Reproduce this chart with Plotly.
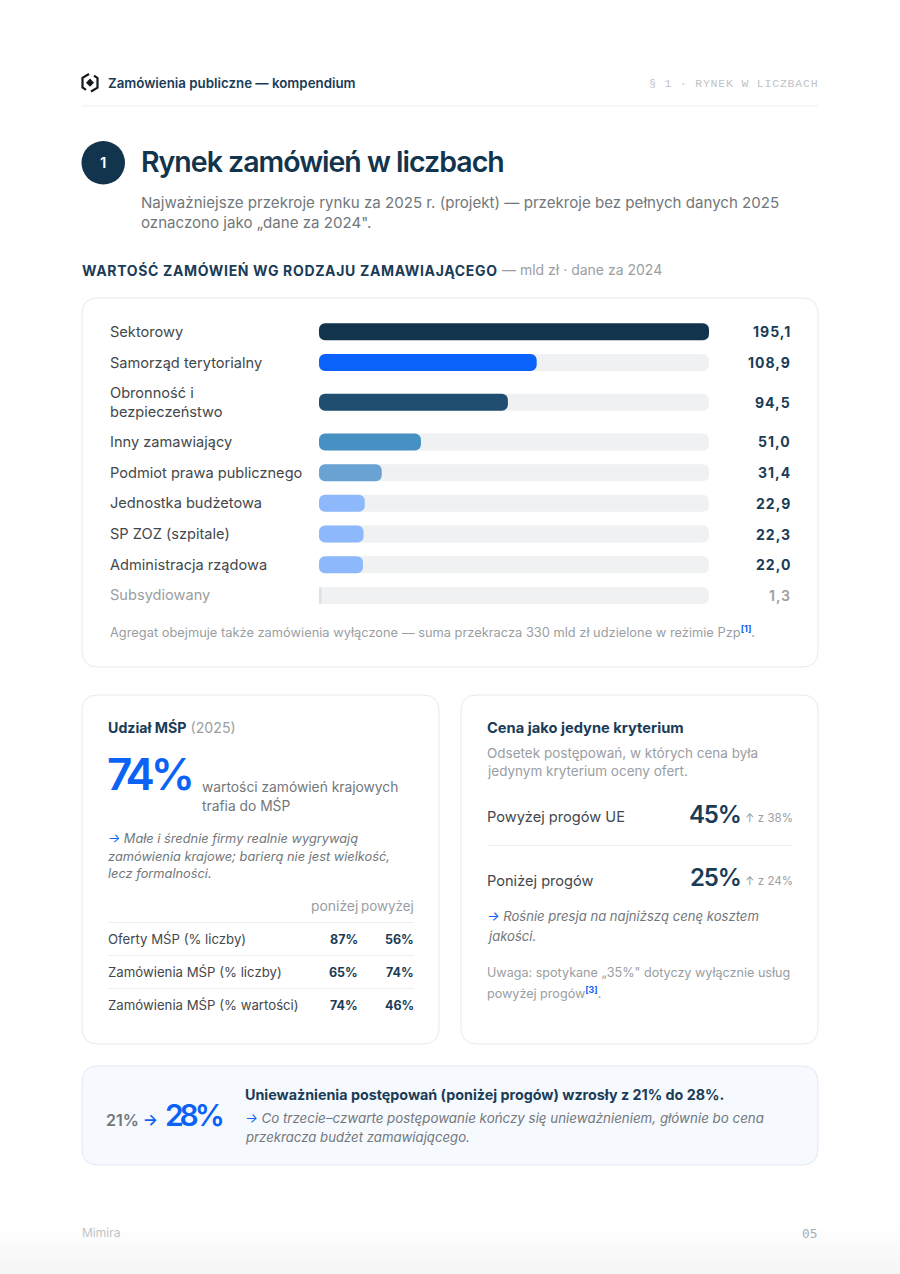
import plotly.graph_objects as go

W, H = 900, 1274
FONT = "Inter"
MONO = "Liberation Mono"
NAVY = "#1a3c57"
CIRCLE = "#12344d"
BLUE = "#0b62f5"
GREY = "#72777b"
LGREY = "#9a9ea2"
DARK = "#43484c"

categories = ["Sektorowy", "Samorząd terytorialny", "Obronność i<br>bezpieczeństwo", "Inny zamawiający",
              "Podmiot prawa publicznego", "Jednostka budżetowa", "SP ZOZ (szpitale)",
              "Administracja rządowa", "Subsydiowany"]
values = [195.1, 108.9, 94.5, 51.0, 31.4, 22.9, 22.3, 22.0, 1.3]
value_labels = ["195,1", "108,9", "94,5", "51,0", "31,4", "22,9", "22,3", "22,0", "1,3"]
bar_colors = ["#12344d", "#0a62fb", "#1f4e70", "#4790c4", "#6aa3d3", "#8db8fb", "#8db8fb", "#8db8fb", "#dde1e4"]

table_rows = ["Oferty MŚP (% liczby)", "Zamówienia MŚP (% liczby)", "Zamówienia MŚP (% wartości)"]
table_below = ["87%", "65%", "74%"]
table_above = ["56%", "74%", "46%"]

row_px = 30.7
wrap_px = 48.7
heights = [wrap_px / row_px if "<br>" in c else 1.0 for c in categories]
centers, acc = [], 0.0
for h in heights:
    centers.append(acc + h / 2)
    acc += h
total = acc
top_px = 316.5
bot_px = top_px + total * row_px

shapes, ann = [], []
def X(x): return x / W
def Y(y): return 1 - y / H

def rrect(x0, y0, x1, y1, r, fill, line, lw=1, layer="below"):
    a0, a1, b0, b1 = X(x0), X(x1), Y(y0), Y(y1)
    rx, ry = r / W, r / H
    p = (f"M{a0+rx},{b0} L{a1-rx},{b0} Q{a1},{b0} {a1},{b0-ry} L{a1},{b1+ry} Q{a1},{b1} {a1-rx},{b1} "
         f"L{a0+rx},{b1} Q{a0},{b1} {a0},{b1+ry} L{a0},{b0-ry} Q{a0},{b0} {a0+rx},{b0} Z")
    shapes.append(dict(type="path", xref="paper", yref="paper", path=p, fillcolor=fill,
                       line=dict(color=line, width=lw), layer=layer))

def hline(x0, x1, y, color="#eceef0", lw=1):
    shapes.append(dict(type="line", xref="paper", yref="paper", x0=X(x0), x1=X(x1), y0=Y(y), y1=Y(y),
                       line=dict(color=color, width=lw), layer="below"))

def T(x, y, text, size, color=DARK, weight=400, anchor="left", font=FONT, italic=False, ls=None):
    if ls is not None:
        text = f"<span style='letter-spacing:{ls}px'>{text}</span>"
    ann.append(dict(xref="paper", yref="paper", x=X(x), y=Y(y), text=text, showarrow=False, xanchor=anchor,
                    yanchor="middle", borderpad=0, borderwidth=0, align=anchor,
                    font=dict(family=font, size=size, color=color, weight=weight,
                              style="italic" if italic else "normal")))

# page background fade at the bottom
for i in range(11):
    c = 255 - i
    shapes.append(dict(type="rect", xref="paper", yref="paper", x0=0, x1=1, y0=0, y1=Y(1222 + i * 5),
                       fillcolor=f"rgb({c},{c},{min(255, c + 1)})", line=dict(width=0), layer="below"))

# header
T(107.5, 82.5, "Zamówienia publiczne — kompendium", 13.3, NAVY, 600)
T(818, 83, "§ 1 · RYNEK W LICZBACH", 11.5, "#c0c3c6", 400, "right", MONO, ls=0.8)
hline(82, 818, 106)
# logo
ink = "#14181c"
def hex_path(pts):
    return "M" + " L".join(f"{X(a)},{Y(b)}" for a, b in pts)
shapes.append(dict(type="path", xref="paper", yref="paper", layer="above", fillcolor="rgba(0,0,0,0)",
                   line=dict(color=ink, width=2.2), path=hex_path([(89, 74), (82.5, 77.8), (82.5, 87.5), (86, 89.8)])))
shapes.append(dict(type="path", xref="paper", yref="paper", layer="above", fillcolor="rgba(0,0,0,0)",
                   line=dict(color=ink, width=2.2), path=hex_path([(91, 91.5), (97.5, 87.7), (97.5, 78), (94, 75.7)])))
shapes.append(dict(type="path", xref="paper", yref="paper", layer="above", fillcolor=ink, line=dict(width=0),
                   path=hex_path([(90, 78.6), (94, 82.7), (90, 86.8), (86, 82.7)]) + " Z"))

# title block
shapes.append(dict(type="circle", xref="paper", yref="paper", x0=X(81.5), x1=X(125), y0=Y(141), y1=Y(184.5),
                   fillcolor=CIRCLE, line=dict(width=0), layer="below"))
T(103.3, 162.5, "1", 15, "#ffffff", 600, "center")
T(141, 161.5, "Rynek zamówień w liczbach", 28.5, CIRCLE, 600, ls=-1)
T(141, 202.5, "Najważniejsze przekroje rynku za 2025 r. (projekt) — przekroje bez pełnych danych 2025", 15.1, GREY)
T(141, 222.5, "oznaczono jako „dane za 2024\".", 15.1, GREY)
T(82, 270, "WARTOŚĆ ZAMÓWIEŃ WG RODZAJU ZAMAWIAJĄCEGO", 14, NAVY, 700, ls=0.66)
T(502, 270, "— mld zł · dane za 2024", 14, LGREY)

# main card
rrect(82, 298, 818, 667, 16, "#ffffff", "#e8eaec")
for c, yc, vl in zip(categories, centers, value_labels):
    faded = c == categories[-1]
    ypx = top_px + yc * row_px
    parts = c.split("<br>")
    for i, p in enumerate(parts):
        T(110, ypx + (i - (len(parts) - 1) / 2) * 19, p, 14.6, LGREY if faded else DARK)
    T(790.5, ypx, vl, 14, LGREY if faded else NAVY, 600 if faded else 700, "right", ls=1.0)
T(110, 632, f"Agregat obejmuje także zamówienia wyłączone — suma przekracza 330 mld zł udzielone w reżimie Pzp<sup><span style='color:{BLUE};font-weight:700'>[1]</span></sup>.", 12.85, LGREY)

# left card
rrect(82, 695, 439, 1044, 16, "#ffffff", "#e8eaec")
T(108, 727.5, f"<span style='font-weight:700'>Udział MŚP</span> <span style='color:{LGREY}'>(2025)</span>", 14.2, NAVY)
T(107, 774, "74%", 44, BLUE, 600, ls=-4.2)
T(201.5, 786.5, "wartości zamówień krajowych", 13.8, GREY)
T(201.5, 805, "trafia do MŚP", 13.8, GREY)
T(108, 838.5, f"<span style='color:{BLUE}'>→</span> Małe i średnie firmy realnie wygrywają", 12.8, GREY, italic=True)
T(108, 856, "zamówienia krajowe; barierą nie jest wielkość,", 12.8, GREY, italic=True)
T(108, 873.5, "lecz formalności.", 12.8, GREY, italic=True)
T(358, 906, "poniżej", 13.9, LGREY, 400, "right")
T(414, 906, "powyżej", 13.4, LGREY, 400, "right")
for i, (r, a, b) in enumerate(zip(table_rows, table_below, table_above)):
    yy = 939 + i * 33
    hline(108, 414, yy - 16.5)
    T(108, yy, r, 13.2, DARK)
    T(358, yy, a, 12.5, NAVY, 700, "right")
    T(414, yy, b, 12.5, NAVY, 700, "right")

# right card
rrect(461, 695, 818, 1044, 16, "#ffffff", "#e8eaec")
T(487, 727.5, "Cena jako jedyne kryterium", 14.7, NAVY, 700)
T(487, 752.5, "Odsetek postępowań, w których cena była", 13.5, LGREY)
T(487, 771, "jedynym kryterium oceny ofert.", 13.5, LGREY)
T(487, 817, "Powyżej progów UE", 14.6, DARK)
T(741, 814, "45%", 24, NAVY, 600, "right", ls=-1.2)
T(793, 818, "↑ z 38%", 11.5, LGREY, 400, "right")
hline(487, 793, 845.5)
T(487, 880.5, "Poniżej progów", 14.6, DARK)
T(741, 877, "25%", 24, NAVY, 600, "right", ls=-1.2)
T(793, 881.5, "↑ z 24%", 11.5, LGREY, 400, "right")
T(487, 916, f"<span style='color:{BLUE}'>→</span> Rośnie presja na najniższą cenę kosztem", 13.1, GREY, italic=True)
T(487, 936, "jakości.", 13.1, GREY, italic=True)
T(487, 972.5, "Uwaga: spotykane „35%\" dotyczy wyłącznie usług", 12.6, LGREY)
T(487, 992, f"powyżej progów<sup><span style='color:{BLUE};font-weight:700'>[3]</span></sup>.", 12.6, LGREY)

# banner
rrect(82, 1066, 818, 1165, 16, "#f6f9fe", "#e2e9f4")
T(106, 1120, f"21% <span style='color:{BLUE}'>→</span>", 16, GREY, 600)
T(165, 1115, "28%", 30, BLUE, 600, ls=-4.1)
T(245, 1094, "Unieważnienia postępowań (poniżej progów) wzrosły z 21% do 28%.", 14.3, NAVY, 700)
T(245, 1117.5, f"<span style='color:{BLUE}'>→</span> Co trzecie–czwarte postępowanie kończy się unieważnieniem, głównie bo cena", 13.35, GREY, italic=True)
T(245, 1136.5, "przekracza budżet zamawiającego.", 13.2, GREY, italic=True)

# footer
T(82, 1232, "Mimira", 12, "#c0c3c6")
T(818, 1233, "05", 12.9, "#a9adb0", 400, "right", "DejaVu Sans Mono")

track = [max(values)] * len(values)
zero_base = [0] * len(values)  # an explicit base makes Plotly round both ends of each bar
fig = go.Figure()
fig.add_trace(go.Bar(y=centers, x=track, base=zero_base, orientation="h", width=17 / row_px,
                     marker=dict(color="#eff1f3", line=dict(width=0)), hoverinfo="skip", showlegend=False))
fig.add_trace(go.Bar(y=centers, x=values, base=zero_base, orientation="h", width=17 / row_px,
                     marker=dict(color=bar_colors, line=dict(width=0)), hoverinfo="skip", showlegend=False))
fig.update_layout(
    width=W, height=H, margin=dict(l=0, r=0, t=0, b=0), paper_bgcolor="#ffffff", plot_bgcolor="rgba(0,0,0,0)",
    barmode="overlay", barcornerradius=6, showlegend=False,
    xaxis=dict(domain=[X(319), X(709)], range=[0, max(values)], visible=False, fixedrange=True),
    yaxis=dict(domain=[Y(bot_px), Y(top_px)], range=[total, 0], visible=False, fixedrange=True),
    shapes=shapes, annotations=ann, font=dict(family=FONT),
)
fig.write_html("out.html", config={"displayModeBar": False},
               post_script="document.body.style.margin='0';document.documentElement.style.overflow='hidden';")
